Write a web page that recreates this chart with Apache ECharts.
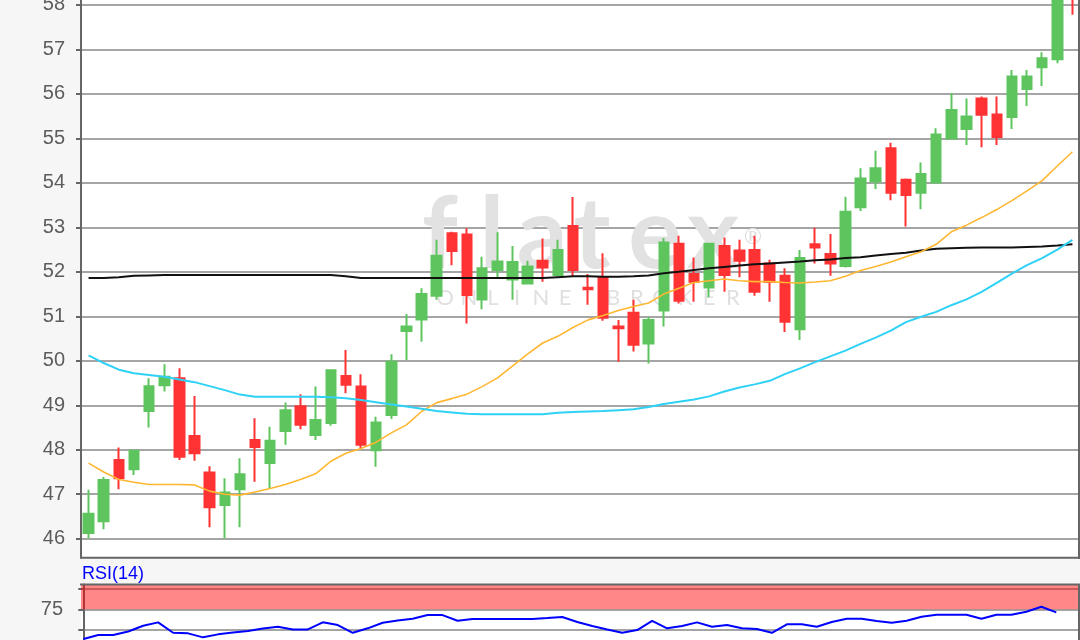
<!DOCTYPE html>
<html><head><meta charset="utf-8">
<script src="https://cdn.jsdelivr.net/npm/echarts@6/dist/echarts.min.js"></script>
<style>html,body{margin:0;padding:0;background:#f6f6f6}#c{width:1080px;height:640px}</style>
</head><body><div id="c"></div>
<script>
// Candle values (open, close, low, high) per trading day
const opens  = [46.13,46.39,47.77,47.56,48.87,49.45,49.61,48.31,47.49,46.76,47.11,48.22,47.70,48.42,48.98,48.33,48.60,49.66,49.42,47.99,48.78,50.67,50.93,51.46,52.87,52.84,51.38,52.04,51.83,51.74,52.25,51.93,53.03,51.64,51.88,50.77,51.08,50.39,51.13,52.63,51.95,51.65,52.58,52.48,52.49,52.19,51.91,50.71,52.62,52.40,52.13,53.45,54.03,54.78,54.07,53.78,54.01,55.00,55.21,55.90,55.54,55.48,56.11,56.60,56.78,58.90];
const closes = [46.56,47.32,47.36,47.98,49.43,49.64,47.84,47.92,46.71,47.04,47.45,48.06,48.20,48.89,48.56,48.67,49.79,49.46,48.11,48.61,49.98,50.77,51.50,52.36,52.47,51.48,52.08,52.23,52.22,52.12,52.10,52.49,52.04,51.61,50.97,50.73,50.36,50.92,52.66,51.35,51.78,52.63,51.93,52.25,51.55,51.78,50.88,52.31,52.55,52.19,53.35,54.10,54.33,53.78,53.73,54.20,55.09,55.64,55.49,55.53,55.03,56.39,56.39,56.80,58.40,58.30];
const lows   = [46.01,46.21,47.11,47.43,48.50,49.31,47.77,47.75,46.26,46.01,46.26,47.28,47.13,48.11,48.46,48.22,48.54,49.27,48.03,47.62,48.69,50.02,50.43,51.37,52.15,50.84,51.16,51.88,51.37,51.72,51.78,51.88,51.91,51.26,50.90,49.98,50.21,49.94,50.77,51.29,51.33,51.43,51.55,51.88,51.46,51.33,50.65,50.47,52.19,51.91,52.10,53.37,53.86,53.61,53.02,53.41,53.99,54.98,54.85,54.80,54.85,55.21,55.73,56.18,56.69,57.78];
const highs  = [47.10,47.39,48.05,48.00,49.61,49.92,49.83,49.21,47.63,47.36,47.81,48.71,48.52,49.06,49.25,49.42,49.79,50.24,49.70,48.74,50.15,51.05,51.63,52.72,52.90,52.98,52.34,52.89,52.58,52.25,52.75,52.72,53.68,51.95,52.42,50.92,51.37,50.99,52.76,52.81,52.32,52.64,52.77,52.72,52.81,52.27,52.08,52.49,52.99,52.85,53.69,54.33,54.72,54.90,54.10,54.46,55.23,56.02,55.90,55.94,55.94,56.54,56.54,56.94,58.60,59.00];
// Moving averages
const maOrange = [47.70,47.50,47.33,47.27,47.22,47.22,47.22,47.21,47.07,47.00,46.98,47.05,47.13,47.22,47.33,47.46,47.74,47.92,48.03,48.17,48.38,48.56,48.86,49.06,49.15,49.25,49.42,49.61,49.88,50.15,50.40,50.55,50.75,50.92,51.02,51.13,51.22,51.30,51.50,51.63,51.76,51.80,51.84,51.80,51.78,51.78,51.76,51.75,51.77,51.80,51.90,52.03,52.12,52.22,52.34,52.45,52.62,52.90,53.05,53.22,53.40,53.60,53.82,54.05,54.38,54.70];
const maCyan   = [50.12,49.95,49.80,49.72,49.68,49.64,49.58,49.52,49.43,49.34,49.24,49.19,49.19,49.19,49.19,49.19,49.18,49.16,49.12,49.07,49.02,48.97,48.92,48.87,48.84,48.81,48.80,48.80,48.80,48.80,48.80,48.83,48.85,48.86,48.87,48.89,48.91,48.96,49.03,49.08,49.13,49.20,49.31,49.40,49.47,49.55,49.70,49.83,49.97,50.10,50.23,50.38,50.52,50.68,50.87,50.99,51.10,51.25,51.38,51.55,51.75,51.96,52.15,52.31,52.50,52.72];
const maBlack  = [51.86,51.86,51.88,51.91,51.92,51.93,51.93,51.93,51.93,51.93,51.93,51.93,51.93,51.93,51.93,51.93,51.93,51.90,51.86,51.86,51.86,51.86,51.86,51.86,51.86,51.86,51.86,51.86,51.86,51.86,51.86,51.88,51.90,51.90,51.89,51.89,51.90,51.92,51.97,52.00,52.04,52.08,52.11,52.14,52.17,52.19,52.21,52.23,52.26,52.28,52.31,52.33,52.37,52.40,52.43,52.48,52.52,52.53,52.54,52.55,52.55,52.55,52.56,52.57,52.59,52.62];
// RSI(14)
const rsi = [39.1,44.0,44.0,48.2,55.2,59.3,46.7,46.0,41.2,44.8,47.0,48.8,51.8,54.0,50.8,50.8,59.3,56.0,46.7,52.1,58.8,61.5,63.6,68.1,68.1,61.2,63.3,63.3,63.3,63.3,63.3,64.5,65.8,59.7,54.8,50.6,46.7,50.0,61.2,52.1,54.8,59.3,54.0,56.0,52.1,51.2,46.7,56.9,56.9,54.0,59.7,63.6,63.6,60.9,58.8,61.2,66.1,68.5,68.5,68.5,63.6,68.5,68.5,72.1,78.1,71.4];
const rsiLabels = [25, 75];
const priceLabelRange = [46, 58];

const categories = opens.map((_, i) => String(i + 1));
const candleData = opens.map((o, i) => [o, closes[i], lows[i], highs[i]]);
const rsiData = rsi.map((v, i) => [i, v]);

const BG = '#f6f6f6';
const AX = '#666666';
const GRIDC = '#a5a5a5';
const chart = echarts.init(document.getElementById('c'), null, {renderer: 'canvas'});

const wmLetters = ['f','l','a','t','e','x'];
const wmX = [440, 492, 542, 592, 655, 713];
const subLetters = 'ONLINE BROKER'.split('');
const graphics = [];
wmLetters.forEach((ch, i) => graphics.push({type:'text', x: wmX[i], y: 236, z: 1, silent: true,
  style:{text: ch, fill:'#e2e2e2', font:'bold 100px Lato', textAlign:'center', textVerticalAlign:'middle'}}));
graphics.push({type:'text', x: 753, y: 237, z: 1, silent: true,
  style:{text:'®', fill:'#dedede', font:'22px Lato', textAlign:'center', textVerticalAlign:'middle'}});
subLetters.forEach((ch, i) => graphics.push({type:'text', x: 445 + i * 24, y: 298, z: 1, silent: true,
  style:{text: ch, fill:'#e0e0e0', font:'22px Lato', textAlign:'center', textVerticalAlign:'middle'}}));
graphics.push(
  {type:'line', shape:{x1:80, y1:557.8, x2:1080, y2:557.8}, style:{stroke: AX, lineWidth: 2}, z: 101, silent: true},
  {type:'line', shape:{x1:80, y1:584.5, x2:1080, y2:584.5}, style:{stroke: AX, lineWidth: 2}, z: 101, silent: true},
  {type:'line', shape:{x1:1079, y1:0, x2:1079, y2:559}, style:{stroke: AX, lineWidth: 2}, z: 101, silent: true},
  {type:'line', shape:{x1:1079, y1:584, x2:1079, y2:640}, style:{stroke: AX, lineWidth: 2}, z: 101, silent: true},
  {type:'text', x: 82, y: 574, z: 101, silent: true,
   style:{text:'RSI(14)', fill:'#0000ff', font:'18px "Liberation Sans"', textAlign:'left', textVerticalAlign:'middle'}}
);

const option = {
  animation: false,
  backgroundColor: BG,
  grid: [
    {left: 81, right: 0, top: 0, height: 557.7, show: true, backgroundColor: '#ffffff', borderWidth: 0,
     containLabel: false, outerBoundsMode: 'none'},
    {left: 81, right: 0, top: 584.5, height: 55.5, show: true, backgroundColor: '#ffffff', borderWidth: 0,
     containLabel: false, outerBoundsMode: 'none'}
  ],
  xAxis: [
    {type: 'category', gridIndex: 0, data: categories, boundaryGap: true,
     axisLine: {show: false}, axisTick: {show: false}, axisLabel: {show: false}, splitLine: {show: false}},
    {type: 'value', gridIndex: 1, min: -0.154, max: 66.583, show: false, splitLine: {show: false}}
  ],
  yAxis: [
    {type: 'value', gridIndex: 0, min: 45.573, max: 58.112, splitNumber: 12, minInterval: 1, maxInterval: 1,
     axisLine: {show: true, lineStyle: {color: AX, width: 2}},
     axisTick: {show: true, length: 5, lineStyle: {color: AX, width: 2}},
     axisLabel: {margin: 16, fontSize: 20, color: '#5c5c5c', fontFamily: 'Liberation Sans', showMinLabel: false, showMaxLabel: false,
       formatter: v => (Number.isInteger(v) && v >= priceLabelRange[0] && v <= priceLabelRange[1]) ? String(v) : ''},
     splitLine: {show: true, showMinLine: false, showMaxLine: false, lineStyle: {color: GRIDC, width: 2}}},
    {type: 'value', gridIndex: 1, min: 38, max: 105, splitNumber: 3, minInterval: 25, maxInterval: 25,
     axisLine: {show: true, lineStyle: {color: AX, width: 2}},
     axisTick: {show: true, length: 5, lineStyle: {color: AX, width: 2}},
     axisLabel: {margin: 18, fontSize: 20, color: '#5c5c5c', fontFamily: 'Liberation Sans', showMinLabel: false, showMaxLabel: false,
       formatter: v => rsiLabels.includes(v) ? String(v) : ''},
     splitLine: {show: true, showMinLine: false, showMaxLine: false, lineStyle: {color: GRIDC, width: 2}}}
  ],
  series: [
    {type: 'candlestick', xAxisIndex: 0, yAxisIndex: 0, data: candleData, barWidth: 10, z: 4, clip: true,
     itemStyle: {color: '#5ec55e', color0: '#ff3333', borderColor: '#5ec55e', borderColor0: '#ff3333', borderWidth: 2}},
    {type: 'line', xAxisIndex: 0, yAxisIndex: 0, data: maBlack, symbol: 'none', z: 5,
     lineStyle: {color: '#111111', width: 2}},
    {type: 'line', xAxisIndex: 0, yAxisIndex: 0, data: maOrange, symbol: 'none', z: 5,
     lineStyle: {color: '#ffb732', width: 1.6}},
    {type: 'line', xAxisIndex: 0, yAxisIndex: 0, data: maCyan, symbol: 'none', z: 5,
     lineStyle: {color: '#2fd2f6', width: 2}},
    {type: 'line', xAxisIndex: 1, yAxisIndex: 1, data: rsiData, symbol: 'none', z: 5, clip: true,
     lineStyle: {color: '#0000ff', width: 2},
     markArea: {silent: true, itemStyle: {color: 'rgba(255,0,0,0.47)'}, data: [[{yAxis: 75}, {yAxis: 105}]]}}
  ],
  graphic: graphics
};
chart.setOption(option);
</script></body></html>
